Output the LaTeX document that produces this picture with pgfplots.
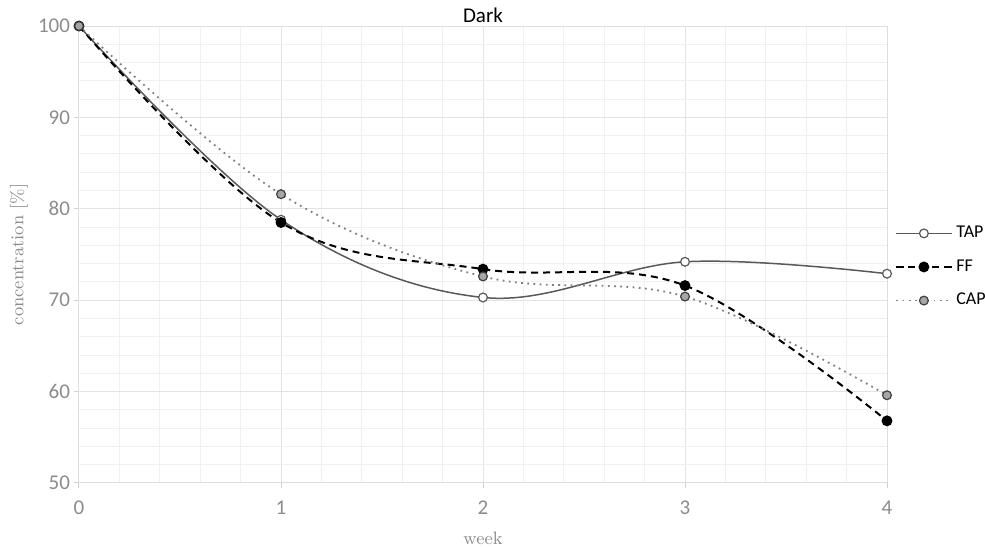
\documentclass[border=0pt]{standalone}
\usepackage{fontspec}
\usepackage{pgfplots}
\pgfplotsset{compat=1.18}
\newfontfamily\carlito{Carlito}
\definecolor{tapc}{HTML}{595959}
\definecolor{capc}{HTML}{808080}
\definecolor{capfill}{HTML}{A6A6A6}
\definecolor{tickc}{HTML}{8C8C8C}
\begin{document}
\begin{tikzpicture}
\begin{axis}[
  scale only axis,
  width=404pt, height=228.5pt,
  xmin=0, xmax=4, ymin=50, ymax=100,
  xtick={0,1,2,3,4}, ytick={50,60,70,80,90,100},
  minor x tick num=4, minor y tick num=4,
  grid=both,
  major grid style={draw=black!11, line width=0.5pt},
  minor grid style={draw=black!6, line width=0.5pt},
  axis line style={draw=black!13, line width=0.5pt},
  tick align=outside,
  major tick length=2.5pt, minor tick length=0pt,
  tick style={draw=black!18, line width=0.5pt},
  xtick pos=bottom, ytick pos=left,
  /pgf/number format/assume math mode=true,
  ticklabel style={font=\carlito\fontsize{10.5}{12}\selectfont, text=tickc},
  xticklabel style={yshift=-3pt},
  yticklabel style={xshift=1.5pt},
  title={\carlito Dark},
  title style={at={(axis description cs:0.5,1)}, anchor=base, yshift=-4.25pt, inner sep=0pt, font=\fontsize{10.5}{12}\selectfont},
  xlabel={week},
  ylabel={concentration [\%]},
  label style={font=\fontsize{9}{10}\selectfont, text=tickc},
  xlabel style={at={(axis description cs:0.5,0)}, anchor=center, yshift=-27.5pt},
  ylabel style={at={(axis description cs:0,0.5)}, anchor=center, yshift=30pt},
  legend style={at={(axis description cs:1,0.4726)}, anchor=west, xshift=1pt, draw=none, fill=none,
    font=\carlito\fontsize{9}{10}\selectfont, row sep=5.5pt, nodes={inner sep=2pt}},
  legend cell align=left,
  legend image code/.code={\draw[mark repeat=2,mark phase=2,#1] plot coordinates {(0pt,0pt)(13.75pt,0pt)(27.5pt,0pt)};},
  clip=false,
]
\addplot[smooth, tension=0.6, color=tapc, line width=0.75pt, mark=*, mark size=2.2pt,
  mark options={solid, fill=white, draw=tapc, line width=0.6pt}]
  coordinates {(0,100) (1,78.8) (2,70.3) (3,74.2) (4,72.9)};
\addlegendentry{TAP}
\addplot[smooth, tension=0.6, color=black, line width=1pt, dash pattern=on 3.5pt off 2.5pt, mark=*, mark size=2.2pt,
  mark options={solid, fill=black, draw=black}]
  coordinates {(0,100) (1,78.5) (2,73.4) (3,71.6) (4,56.8)};
\addlegendentry{FF}
\addplot[smooth, tension=0.6, color=capc, line width=0.9pt, dash pattern=on 0.9pt off 2.2pt, mark=*, mark size=2.2pt,
  mark options={solid, fill=capfill, draw=black!75, line width=0.6pt}]
  coordinates {(0,100) (1,81.6) (2,72.6) (3,70.4) (4,59.6)};
\addlegendentry{CAP}
\end{axis}
\pgfresetboundingbox
\useasboundingbox (-39.5pt,-33pt) rectangle (453pt,241.5pt);
\end{tikzpicture}
\end{document}
